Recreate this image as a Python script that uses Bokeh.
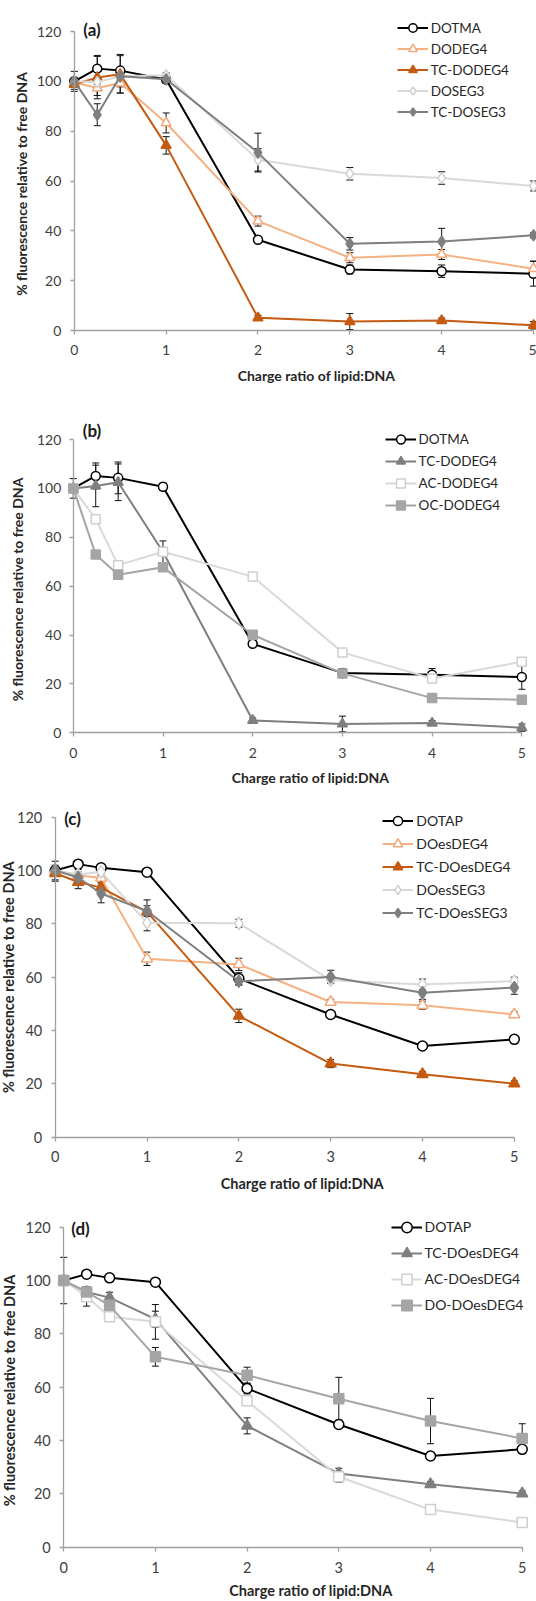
import math
from bokeh.plotting import figure
from bokeh.models import (ColumnDataSource, Whisker, TeeHead, Legend, LegendItem,
                          Label, Range1d, FixedTicker)
from bokeh.layouts import column
from bokeh.embed import file_html
from bokeh.resources import INLINE

# ---------------- data ----------------
charge_ratio = [0, 0.25, 0.5, 1, 2, 3, 4, 5]
x_tick_values = [0, 1, 2, 3, 4, 5]
y_tick_values = [0, 20, 40, 60, 80, 100, 120]
x_title = "Charge ratio of lipid:DNA"
y_title = "% fluorescence relative to free DNA"
panel_tags = ["(a)", "(b)", "(c)", "(d)"]

# panel (a)
a_series = ["DOTMA", "DODEG4", "TC-DODEG4", "DOSEG3", "TC-DOSEG3"]
a_DOTMA = [100, 105.1, 104.3, 100.7, 36.4, 24.5, 23.8, 22.8]
a_DOTMA_err = [4.0, 5.3, 6.5, 1.5, 1.0, 1.8, 2.5, 5.0]
a_DODEG4 = [99.5, 97.3, 99.3, 83.3, 43.9, 29.2, 30.5, 24.8]
a_DODEG4_err = [1.0, 3.0, 4.0, 4.0, 2.0, 2.0, 2.0, 3.0]
a_TC_DODEG4 = [98.8, 101.5, 102.8, 74.3, 5.1, 3.6, 4.0, 2.1]
a_TC_DODEG4_err = [2.0, 8.5, 7.5, 3.5, 1.0, 3.2, 1.0, 1.5]
a_DOSEG3 = [100, 99.7, 102.0, 102.4, 68.5, 62.9, 61.2, 58.0]
a_DOSEG3_err = [1.0, 1.0, 1.0, 1.0, 4.5, 2.5, 2.5, 2.0]
a_TC_DOSEG3 = [100, 86.6, 102.0, 100.8, 71.4, 34.8, 35.7, 38.2]
a_TC_DOSEG3_err = [1.0, 4.4, 1.0, 1.0, 7.8, 2.5, 5.3, 1.0]

# panel (b)
b_series = ["DOTMA", "TC-DODEG4", "AC-DODEG4", "OC-DODEG4"]
b_DOTMA = [100, 105.1, 104.3, 100.7, 36.4, 24.5, 23.8, 22.8]
b_DOTMA_err = [4.0, 5.3, 6.5, 1.5, 1.0, 1.8, 2.5, 5.0]
b_TC_DODEG4 = [100, 101.0, 102.5, 74.0, 5.1, 3.6, 4.0, 2.1]
b_TC_DODEG4_err = [1.0, 8.5, 7.5, 4.5, 1.0, 3.2, 1.0, 1.5]
b_AC_DODEG4 = [100, 87.4, 68.6, 74.1, 63.9, 32.9, 22.2, 29.1]
b_AC_DODEG4_err = [0.8, 0.8, 0.8, 0.8, 0.8, 0.8, 0.8, 0.8]
b_OC_DODEG4 = [100, 72.9, 64.7, 67.7, 40.1, 24.3, 14.2, 13.5]
b_OC_DODEG4_err = [0.8, 0.8, 0.8, 0.8, 0.8, 0.8, 0.8, 0.8]

# panel (c)
c_series = ["DOTAP", "DOesDEG4", "TC-DOesDEG4", "DOesSEG3", "TC-DOesSEG3"]
c_DOTAP = [100, 102.4, 101.0, 99.4, 59.5, 46.0, 34.2, 36.7]
c_DOTAP_err = [3.5, 1.0, 1.0, 1.0, 2.2, 1.0, 1.0, 1.0]
c_DOesDEG4 = [100, 98.2, 97.2, 66.9, 64.8, 50.7, 49.5, 46.0]
c_DOesDEG4_err = [1.0, 1.0, 1.0, 2.5, 2.3, 1.0, 1.5, 1.0]
c_TC_DOesDEG4 = [99.0, 95.7, 93.6, 84.5, 45.5, 27.6, 23.6, 20.1]
c_TC_DOesDEG4_err = [3.0, 2.5, 2.0, 4.5, 2.5, 1.5, 1.0, 1.0]
c_DOesSEG3 = [100, 98.5, 99.5, 80.4, 80.2, 58.9, 57.3, 58.5]
c_DOesSEG3_err = [1.0, 1.0, 1.0, 3.0, 1.5, 1.0, 2.0, 1.5]
c_TC_DOesSEG3 = [100, 97.4, 91.4, 84.8, 58.5, 60.1, 54.2, 56.1]
c_TC_DOesSEG3_err = [1.0, 3.0, 3.5, 2.0, 1.5, 2.5, 2.5, 2.5]

# panel (d)
d_series = ["DOTAP", "TC-DOesDEG4", "AC-DOesDEG4", "DO-DOesDEG4"]
d_DOTAP = [100, 102.4, 101.0, 99.4, 59.5, 46.0, 34.2, 36.7]
d_DOTAP_err = [1.0, 1.0, 1.0, 1.0, 2.0, 1.0, 1.0, 1.0]
d_TC_DOesDEG4 = [100, 95.7, 93.6, 85.5, 45.5, 27.6, 23.6, 20.1]
d_TC_DOesDEG4_err = [1.0, 2.0, 2.0, 3.0, 3.0, 2.0, 1.0, 1.0]
d_AC_DOesDEG4 = [100, 93.9, 86.4, 84.5, 54.9, 26.4, 14.1, 9.3]
d_AC_DOesDEG4_err = [1.0, 3.5, 1.0, 6.5, 1.0, 2.0, 1.0, 1.0]
d_DO_DOesDEG4 = [100, 95.7, 90.7, 71.4, 64.5, 55.7, 47.3, 40.8]
d_DO_DOesDEG4_err = [8.7, 1.0, 1.0, 3.5, 3.0, 8.0, 8.5, 5.5]

# ---------------- styles ----------------
ST = {
    "black_open_circle": dict(line="#000000", marker="circle", fill="#ffffff", edge="#000000", k=1.0),
    "light_orange_open_tri": dict(line="#F4B183", marker="triangle", fill="#ffffff", edge="#F4A77A", k=1.1),
    "dark_orange_tri": dict(line="#C55A11", marker="triangle", fill="#C55A11", edge="#C55A11", k=1.1),
    "light_gray_open_diamond": dict(line="#D9D9D9", marker="diamond", fill="#ffffff", edge="#CFCFCF", k=1.25),
    "gray_diamond": dict(line="#7F7F7F", marker="diamond", fill="#7F7F7F", edge="#7F7F7F", k=1.25),
    "gray_tri": dict(line="#7F7F7F", marker="triangle", fill="#7F7F7F", edge="#7F7F7F", k=1.1),
    "light_gray_open_square": dict(line="#D9D9D9", marker="square", fill="#ffffff", edge="#CFCFCF", k=1.0),
    "mid_gray_square": dict(line="#A5A5A5", marker="square", fill="#A5A5A5", edge="#A5A5A5", k=1.0),
}

AXIS = "#A0A0A0"
TICK = "#404040"
TITLE = "#262626"
FONT = "Lato"
PAGE_LEFT = 0
FIG_W = 536

# geometry in page pixels: figure top/bottom, data origin/extent, legend, labels
panels = [
    dict(tag=panel_tags[0], names=a_series,
         vals=[a_DOTMA, a_DODEG4, a_TC_DODEG4, a_DOSEG3, a_TC_DOSEG3],
         errs=[a_DOTMA_err, a_DODEG4_err, a_TC_DODEG4_err, a_DOSEG3_err, a_TC_DOSEG3_err],
         styles=["black_open_circle", "light_orange_open_tri", "dark_orange_tri",
                 "light_gray_open_diamond", "gray_diamond"],
         top=0, bot=420, x0=73.8, x5=533.0, y120=31.0, y0=330.0,
         tick=14, xs=10, ys=9, ms=9,
         leg=(396.7, 122.2), row=21, lfont=13.5, tagpos=(91.5, 29),
         xt=(316, 375), yt=(20.5, 183.5), tfont=14),
    dict(tag=panel_tags[1], names=b_series,
         vals=[b_DOTMA, b_TC_DODEG4, b_AC_DODEG4, b_OC_DODEG4],
         errs=[b_DOTMA_err, b_TC_DODEG4_err, b_AC_DODEG4_err, b_OC_DODEG4_err],
         styles=["black_open_circle", "gray_tri", "light_gray_open_square", "mid_gray_square"],
         top=420, bot=805, x0=72.8, x5=521.3, y120=439.0, y0=732.3,
         tick=14, xs=11, ys=8, ms=9,
         leg=(384.6, 516.3), row=22, lfont=13.5, tagpos=(91.5, 430),
         xt=(310, 776.7), yt=(17, 589), tfont=14),
    dict(tag=panel_tags[2], names=c_series,
         vals=[c_DOTAP, c_DOesDEG4, c_TC_DOesDEG4, c_DOesSEG3, c_TC_DOesSEG3],
         errs=[c_DOTAP_err, c_DOesDEG4_err, c_TC_DOesDEG4_err, c_DOesSEG3_err, c_TC_DOesSEG3_err],
         styles=["black_open_circle", "light_orange_open_tri", "dark_orange_tri",
                 "light_gray_open_diamond", "gray_diamond"],
         top=805, bot=1205, x0=54.7, x5=513.8, y120=816.7, y0=1136.7,
         tick=14.5, xs=10, ys=9, ms=10,
         leg=(382.3, 924.2), row=23, lfont=14, tagpos=(72, 817.5),
         xt=(301.8, 1183), yt=(7.5, 976.7), tfont=14.5),
    dict(tag=panel_tags[3], names=d_series,
         vals=[d_DOTAP, d_TC_DOesDEG4, d_AC_DOesDEG4, d_DO_DOesDEG4],
         errs=[d_DOTAP_err, d_TC_DOesDEG4_err, d_AC_DOesDEG4_err, d_DO_DOesDEG4_err],
         styles=["black_open_circle", "gray_tri", "light_gray_open_square", "mid_gray_square"],
         top=1205, bot=1600, x0=63.2, x5=521.7, y120=1226.7, y0=1546.7,
         tick=14.5, xs=11, ys=9, ms=10,
         leg=(390.5, 1317.7), row=26, lfont=14, tagpos=(80, 1228),
         xt=(310.4, 1590), yt=(9, 1390), tfont=14.5),
]


def make_panel(g):
    H = g["bot"] - g["top"]
    u = (g["x5"] - g["x0"]) / 5.0
    v = (g["y0"] - g["y120"]) / 120.0
    xr = Range1d(-(g["x0"] - PAGE_LEFT) / u, 5 + (PAGE_LEFT + FIG_W - g["x5"]) / u)
    yr = Range1d(-(g["bot"] - g["y0"]) / v, 120 + (g["y120"] - g["top"]) / v)

    def sx(px):
        return px - PAGE_LEFT

    def sy(py):
        return g["bot"] - py

    p = figure(width=FIG_W, height=H, x_range=xr, y_range=yr,
               output_backend="svg", toolbar_location=None, title=None,
               min_border=0, min_border_left=0, min_border_right=0,
               min_border_top=0, min_border_bottom=0)
    p.outline_line_color = None
    p.xgrid.visible = False
    p.ygrid.visible = False
    p.background_fill_color = "#ffffff"
    p.border_fill_color = "#ffffff"
    for ax in (p.xaxis[0], p.yaxis[0]):
        ax.fixed_location = 0
        ax.axis_line_color = AXIS
        ax.axis_line_width = 1.3
        ax.major_tick_line_color = AXIS
        ax.major_tick_line_width = 1.3
        ax.major_tick_in = 0
        ax.major_tick_out = 4
        ax.minor_tick_line_color = None
        ax.major_label_text_font = FONT
        ax.major_label_text_font_size = f"{g['tick']}px"
        ax.major_label_text_color = TICK
    p.xaxis[0].ticker = FixedTicker(ticks=x_tick_values)
    p.yaxis[0].ticker = FixedTicker(ticks=y_tick_values)
    p.xaxis[0].bounds = (0, 5)
    p.yaxis[0].bounds = (0, 120)
    p.xaxis[0].major_label_standoff = g["xs"]
    p.yaxis[0].major_label_standoff = g["ys"]

    items = []
    for name, vals, errs, sk in zip(g["names"], g["vals"], g["errs"], g["styles"]):
        st = ST[sk]
        src = ColumnDataSource(dict(
            x=charge_ratio, y=vals,
            lo=[a - b for a, b in zip(vals, errs)],
            hi=[a + b for a, b in zip(vals, errs)]))
        w = Whisker(source=src, base="x", upper="hi", lower="lo", dimension="height",
                    level="underlay", line_color="#111111", line_width=1,
                    upper_head=TeeHead(size=7, line_color="#111111", line_width=1),
                    lower_head=TeeHead(size=7, line_color="#111111", line_width=1))
        p.add_layout(w)
        lr = p.line("x", "y", source=src, line_color=st["line"], line_width=2)
        sr = p.scatter("x", "y", source=src, marker=st["marker"], size=g["ms"] * st["k"],
                       fill_color=st["fill"], line_color=st["edge"], line_width=1.5)
        items.append(LegendItem(label=name, renderers=[lr, sr]))

    leg = Legend(items=items, location=(sx(g["leg"][0]), sy(g["leg"][1])), glyph_width=31,
                 glyph_height=g["row"], label_height=g["row"], label_standoff=3,
                 spacing=0, padding=0, margin=0, border_line_color=None,
                 background_fill_alpha=0, label_text_font=FONT,
                 label_text_font_size=f"{g['lfont']}px", label_text_color="#262626")
    p.add_layout(leg)

    p.add_layout(Label(x=sx(g["tagpos"][0]), y=sy(g["tagpos"][1]), x_units="screen", y_units="screen",
                       text=g["tag"], text_font=FONT, text_font_style="bold",
                       text_font_size="17px", text_align="center", text_baseline="middle",
                       text_color="#1a1a1a"))
    p.add_layout(Label(x=sx(g["xt"][0]), y=sy(g["xt"][1]), x_units="screen", y_units="screen",
                       text=x_title, text_font=FONT, text_font_style="bold",
                       text_font_size=f"{g['tfont']}px", text_align="center",
                       text_baseline="middle", text_color=TITLE))
    p.add_layout(Label(x=sx(g["yt"][0]), y=sy(g["yt"][1]), x_units="screen", y_units="screen",
                       text=y_title, angle=math.pi / 2, text_font=FONT, text_font_style="bold",
                       text_font_size=f"{g['tfont']}px", text_align="center",
                       text_baseline="middle", text_color=TITLE))
    return p


figs = [make_panel(g) for g in panels]
layout = column(*figs, spacing=0)

open("out.html", "w").write(file_html(layout, INLINE))
